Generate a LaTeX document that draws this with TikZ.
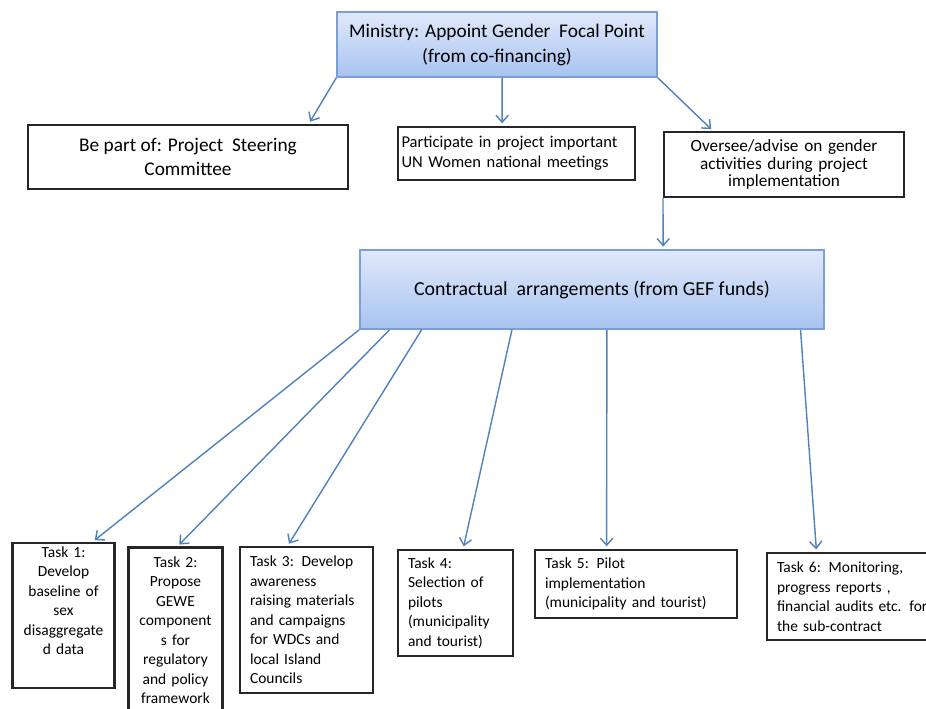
\documentclass[tikz,border=0pt]{standalone}
\usepackage{fontspec}
\setmainfont{Carlito}
\usetikzlibrary{calc,positioning,arrows.meta}

\definecolor{linkblue}{HTML}{4F81BD}
\definecolor{headedge}{HTML}{7B9FD4}
\definecolor{headtop}{HTML}{E0E9FA}
\definecolor{headbot}{HTML}{A8C3F1}

\tikzset{
  head/.style={draw=headedge, line width=0.9pt, top color=headtop, bottom color=headbot,
    align=center, inner sep=2pt},
  role/.style={draw=black!85, line width=1.2pt, fill=white, inner sep=2pt},
  task/.style={role, font=\fontsize{8.8}{11.1}\selectfont, inner xsep=0.2cm},
  link/.style={->, draw=linkblue, line width=0.8pt, shorten >=1.5pt},
}

\begin{document}
\begin{tikzpicture}[x=0.02cm, y=-0.02cm, >={Straight Barb[length=4pt,width=7pt]}]
    \useasboundingbox (0,0) rectangle (926,709);

    % top of the chart
    \node (ministry) [head, minimum width=6.4cm, minimum height=1.3cm,
        font=\fontsize{11}{14.2}\selectfont] at (497,44.5)
        {Ministry: Appoint Gender\ \ Focal Point\\(from co-financing)};

    \node (steer) [role, minimum width=6.4cm, minimum height=1.28cm, align=center,
        font=\fontsize{11}{13.6}\selectfont] at (188,157)
        {Be part of: Project\ \ Steering\\Committee};
    \node (meet) [role, text width=4.6cm, minimum height=1.06cm, align=left,
        font=\fontsize{9.4}{11.3}\selectfont] at (516.5,153.5)
        {Participate in project important\\UN Women national meetings};
    \node (oversee) [role, text width=4.66cm, minimum height=1.3cm, align=center,
        font=\fontsize{9.8}{10}\selectfont] at (784,164.5)
        {Oversee/advise on gender\\activities during project\\implementation};

    \node (contract) [head, minimum width=9.28cm, minimum height=1.58cm,
        font=\fontsize{11.3}{14}\selectfont] at (592,289.5)
        {Contractual\ \ arrangements (from GEF funds)};

    % tasks
    \node (task1) [task, inner xsep=2pt, text width=1.9cm, minimum height=2.74cm, align=center] at (63.5,615.5)
        {Task 1:\\Develop\\baseline of\\sex\\disaggregate\\d data\\[6pt]\mbox{}};
    \node (task2) [task, inner xsep=2pt, text width=1.74cm, minimum height=3.3cm, align=center] at (175.5,630)
        {Task 2:\\Propose\\GEWE\\component\\s for\\regulatory\\and policy\\framework};
    \node (task3) [task, text width=2.26cm, minimum height=2.92cm, align=left] at (306.5,620)
        {Task 3: Develop\\awareness\\raising materials\\and campaigns\\for WDCs and\\local Island\\Councils};
    \node (task4) [task, text width=1.9cm, minimum height=2.12cm, align=left] at (455.5,603)
        {Task 4:\\Selection of\\pilots\\(municipality\\and tourist)};
    \node (task5) [task, text width=3.64cm, minimum height=1.36cm, align=left] at (636,584)
        {Task 5: Pilot\\implementation\\(municipality and tourist)};
    \node (task6) [task, text width=3.26cm, minimum height=1.74cm, align=left] at (858.5,596.5)
        {Task 6: Monitoring,\\progress reports ,\\financial audits etc. for\\the sub-contract};

    % Create the arrows
    \draw[link] (ministry.south west) -- ($(steer.north west)!0.875!(steer.north east)$);
    \draw[link] ($(ministry.south west)!0.516!(ministry.south east)$) -- ($(meet.north west)!0.44!(meet.north east)$);
    \draw[link] (ministry.south east) -- ($(oversee.north west)!0.207!(oversee.north east)$);
    \draw[link] (oversee.south west) -- ($(contract.north west)!0.653!(contract.north east)$);

    \draw[link] (contract.south west) -- ($(task1.north west)!0.78!(task1.north east)$);
    \draw[link] ($(contract.south west)!0.065!(contract.south east)$) -- ($(task2.north west)!0.52!(task2.north east)$);
    \draw[link] ($(contract.south west)!0.134!(contract.south east)$) -- ($(task3.north west)!0.36!(task3.north east)$);
    \draw[link] ($(contract.south west)!0.328!(contract.south east)$) -- ($(task4.north west)!0.565!(task4.north east)$);
    \draw[link] ($(contract.south west)!0.532!(contract.south east)$) -- ($(task5.north west)!0.356!(task5.north east)$);
    \draw[link] ($(contract.south west)!0.948!(contract.south east)$) -- ($(task6.north west)!0.273!(task6.north east)$);
\end{tikzpicture}
\end{document}
